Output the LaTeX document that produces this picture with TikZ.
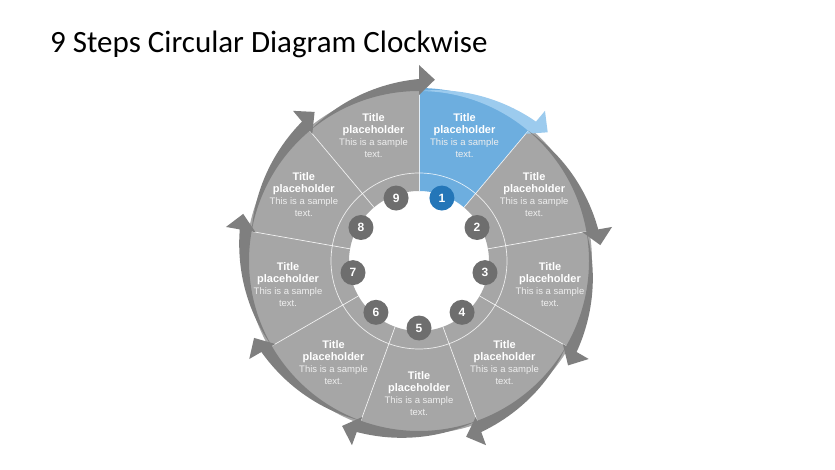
\documentclass[tikz,border=0pt]{standalone}
\usepackage{fontspec}
\setmainfont{Liberation Sans}
\newfontfamily\headfont{Carlito}
\usepackage{xcolor}
\usepackage{tikz}
\usetikzlibrary{calc}
\definecolor{stepgray}{HTML}{A6A6A6}
\definecolor{arrowgray}{HTML}{7F7F7F}
\definecolor{stepblue}{HTML}{6DAEDF}
\definecolor{arrowblue}{HTML}{9CCBEE}
\definecolor{numgray}{HTML}{6E6E6E}
\definecolor{numblue}{HTML}{2476B8}
\definecolor{bodywhite}{HTML}{EEEEEE}
\newcommand{\steptitle}{\fontsize{11}{12}\selectfont\bfseries}

\begin{document}
\begin{tikzpicture}[
    x=1pt, y=1pt,
    steptext/.style={text=bodywhite, align=center, font=\fontsize{9.5}{12}\selectfont,
                    inner sep=0pt},
    stepnum/.style={circle, fill=#1, text=white, minimum size=25pt, inner sep=0pt,
                   font=\fontsize{12}{12}\selectfont\bfseries},
    stepnum/.default=numgray,
    divline/.style={white, opacity=0.8, line width=0.7pt}
]
\useasboundingbox (0,0) rectangle (835,-470);

% Heading
\node[anchor=base west, inner sep=0pt, font=\headfont\fontsize{31}{31}\selectfont] at (50,-53) (title) {9 Steps Circular Diagram Clockwise};

\begin{scope}[shift={(419,-261)}]
% Wedges
\foreach \k/\segc in {1/stepblue,2/stepgray,3/stepgray,4/stepgray,5/stepgray,6/stepgray,7/stepgray,8/stepgray,9/stepgray}{
    \pgfmathsetmacro{\startang}{130-40*\k}
    \pgfmathsetmacro{\endang}{\startang-40}
    \fill[\segc] (\startang:70) arc[start angle=\startang, end angle=\endang, radius=70]
        -- (\endang:173) arc[start angle=\endang, end angle=\startang, radius=173] -- cycle;
}

% Ring and dividers
\draw[divline] (0,0) circle[radius=88];
\foreach \ang in {90,50,...,-230}
    \draw[divline] (\ang:70) -- (\ang:173);

% Arrows round the outside
\foreach \k/\arrc in {1/arrowblue,2/arrowgray,3/arrowgray,4/arrowgray,5/arrowgray,6/arrowgray,7/arrowgray,8/arrowgray,9/arrowgray}{
    \pgfmathsetmacro{\startang}{130-40*\k}
    \pgfmathsetmacro{\endang}{\startang-40}
    \fill[\arrc] plot[domain=0:40, samples=25] ({\startang-\x}:{170+12*\x/40})
        -- (\endang:196) -- ({\endang-5}:182) -- (\endang:166) -- (\endang:170)
        arc[start angle=\endang, end angle=\startang, radius=170] -- cycle;
}

% Texts
\node[steptext] at (70:133) (t1) {{\steptitle\color{white}Title}\\{\steptitle\color{white}placeholder}\\This is a sample\\text.};
\node[steptext] at (30:133) (t2) {{\steptitle\color{white}Title}\\{\steptitle\color{white}placeholder}\\This is a sample\\text.};
\node[steptext] at (-10:133) (t3) {{\steptitle\color{white}Title}\\{\steptitle\color{white}placeholder}\\This is a sample\\text.};
\node[steptext] at (-50:133) (t4) {{\steptitle\color{white}Title}\\{\steptitle\color{white}placeholder}\\This is a sample\\text.};
\node[steptext] at (-90:133) (t5) {{\steptitle\color{white}Title}\\{\steptitle\color{white}placeholder}\\This is a sample\\text.};
\node[steptext] at (-130:133) (t6) {{\steptitle\color{white}Title}\\{\steptitle\color{white}placeholder}\\This is a sample\\text.};
\node[steptext] at (-170:133) (t7) {{\steptitle\color{white}Title}\\{\steptitle\color{white}placeholder}\\This is a sample\\text.};
\node[steptext] at (150:133) (t8) {{\steptitle\color{white}Title}\\{\steptitle\color{white}placeholder}\\This is a sample\\text.};
\node[steptext] at (110:133) (t9) {{\steptitle\color{white}Title}\\{\steptitle\color{white}placeholder}\\This is a sample\\text.};

% Numbers
\node[stepnum=numblue] at (70:67) (n1) {1};
\node[stepnum] at (30:67) (n2) {2};
\node[stepnum] at (-10:67) (n3) {3};
\node[stepnum] at (-50:67) (n4) {4};
\node[stepnum] at (-90:67) (n5) {5};
\node[stepnum] at (-130:67) (n6) {6};
\node[stepnum] at (-170:67) (n7) {7};
\node[stepnum] at (150:67) (n8) {8};
\node[stepnum] at (110:67) (n9) {9};
\end{scope}

\end{tikzpicture}
\end{document}
